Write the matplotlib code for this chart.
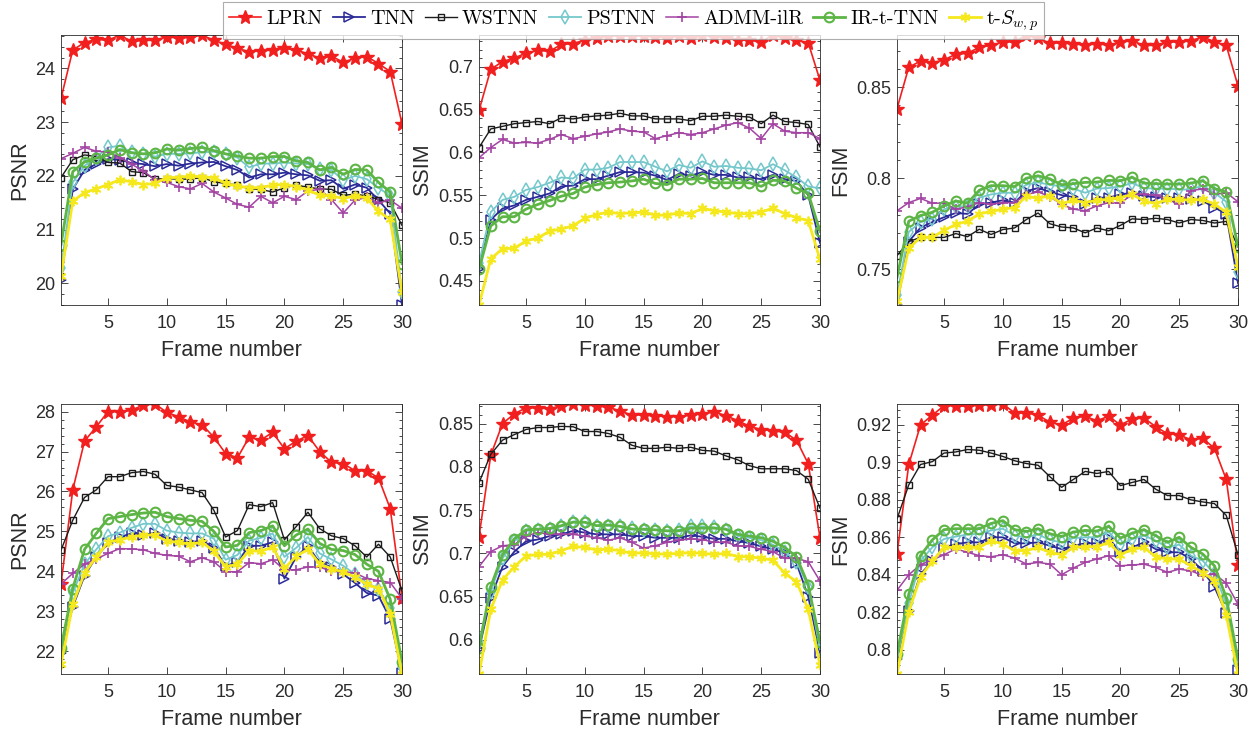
import matplotlib
matplotlib.use("Agg")
import matplotlib.pyplot as plt
from matplotlib.ticker import AutoMinorLocator, FuncFormatter

plt.rcParams["font.family"] = ["Liberation Sans", "DejaVu Sans"]
plt.rcParams["mathtext.fontset"] = "cm"

frames = list(range(1, 31))
methods = ["LPRN", "TNN", "WSTNN", "PSTNN", "ADMM-ilR", "IR-t-TNN", "t-$S_{w,p}$"]

# ---- top row (first video) ----
psnr1_lprn = [23.44, 24.34, 24.48, 24.54, 24.52, 24.62, 24.50, 24.52, 24.52, 24.59, 24.56, 24.58, 24.62, 24.52, 24.45,
              24.37, 24.31, 24.33, 24.34, 24.37, 24.34, 24.27, 24.19, 24.23, 24.11, 24.19, 24.22, 24.09, 23.94, 22.97]
psnr1_tnn = [20.06, 21.75, 22.11, 22.22, 22.31, 22.30, 22.24, 22.22, 22.18, 22.22, 22.19, 22.23, 22.25, 22.26, 22.18,
             22.11, 21.97, 22.03, 22.03, 22.06, 22.03, 22.01, 21.91, 21.92, 21.76, 21.84, 21.78, 21.55, 21.30, 19.60]
psnr1_wstnn = [21.97, 22.30, 22.39, 22.36, 22.25, 22.24, 22.08, 22.06, 21.94, 21.95, 21.94, 21.94, 21.97, 21.89, 21.86,
               21.83, 21.76, 21.75, 21.70, 21.78, 21.83, 21.79, 21.76, 21.75, 21.64, 21.66, 21.63, 21.56, 21.50, 21.08]
psnr1_pstnn = [20.28, 21.88, 22.19, 22.34, 22.53, 22.56, 22.44, 22.41, 22.36, 22.41, 22.41, 22.42, 22.44, 22.45, 22.41,
               22.34, 22.16, 22.23, 22.23, 22.25, 22.23, 22.22, 22.12, 22.11, 21.92, 22.00, 21.94, 21.78, 21.63, 19.84]
psnr1_admm = [22.32, 22.42, 22.53, 22.46, 22.44, 22.34, 22.22, 22.09, 21.93, 21.88, 21.80, 21.76, 21.86, 21.70, 21.59,
              21.47, 21.42, 21.62, 21.50, 21.62, 21.56, 21.72, 21.75, 21.56, 21.31, 21.55, 21.60, 21.50, 21.55, 21.40]
psnr1_irt = [20.72, 22.08, 22.26, 22.33, 22.39, 22.49, 22.43, 22.41, 22.43, 22.50, 22.48, 22.51, 22.53, 22.47, 22.41,
             22.37, 22.33, 22.33, 22.36, 22.36, 22.28, 22.25, 22.11, 22.16, 22.03, 22.12, 22.11, 21.88, 21.70, 20.37]
psnr1_swp = [20.14, 21.53, 21.69, 21.76, 21.84, 21.93, 21.89, 21.84, 21.86, 21.97, 21.97, 22.00, 21.98, 21.97, 21.86,
             21.81, 21.78, 21.78, 21.83, 21.84, 21.80, 21.74, 21.64, 21.63, 21.58, 21.63, 21.59, 21.34, 21.19, 19.84]

ssim1_lprn = [0.649, 0.697, 0.706, 0.710, 0.716, 0.719, 0.718, 0.726, 0.727, 0.731, 0.734, 0.736, 0.736, 0.736, 0.736,
              0.735, 0.734, 0.736, 0.734, 0.737, 0.735, 0.734, 0.731, 0.731, 0.729, 0.737, 0.734, 0.731, 0.728, 0.684]
ssim1_tnn = [0.4635, 0.5214, 0.5346, 0.5382, 0.5446, 0.5482, 0.5521, 0.5604, 0.5613, 0.5688, 0.5688, 0.5729, 0.5771,
             0.5771, 0.5763, 0.5729, 0.5679, 0.5750, 0.5729, 0.5771, 0.5738, 0.5738, 0.5708, 0.5708, 0.5688, 0.5738,
             0.5688, 0.5667, 0.5500, 0.4945]
ssim1_wstnn = [0.6057, 0.6274, 0.6304, 0.6335, 0.6348, 0.6361, 0.6335, 0.6404, 0.6391, 0.6413, 0.6426, 0.6435, 0.6457,
               0.6426, 0.6426, 0.6391, 0.6391, 0.6391, 0.6370, 0.6422, 0.6422, 0.6435, 0.6422, 0.6413, 0.6335, 0.6435,
               0.6361, 0.6348, 0.6326, 0.6065]
ssim1_pstnn = [0.4710, 0.5304, 0.5446, 0.5482, 0.5563, 0.5596, 0.5646, 0.5708, 0.5696, 0.5800, 0.5800, 0.5821, 0.5888,
               0.5888, 0.5888, 0.5833, 0.5779, 0.5854, 0.5821, 0.5896, 0.5833, 0.5842, 0.5821, 0.5813, 0.5792, 0.5863,
               0.5792, 0.5708, 0.5604, 0.5580]
ssim1_admm = [0.5938, 0.6057, 0.6152, 0.6109, 0.6117, 0.6109, 0.6152, 0.6209, 0.6161, 0.6187, 0.6217, 0.6239, 0.6274,
              0.6248, 0.6239, 0.6161, 0.6196, 0.6230, 0.6209, 0.6230, 0.6274, 0.6317, 0.6348, 0.6283, 0.6161, 0.6335,
              0.6248, 0.6230, 0.6230, 0.6161]
ssim1_irt = [0.4635, 0.5143, 0.5250, 0.5250, 0.5339, 0.5393, 0.5439, 0.5489, 0.5521, 0.5596, 0.5625, 0.5646, 0.5654,
             0.5667, 0.5688, 0.5638, 0.5625, 0.5688, 0.5688, 0.5696, 0.5646, 0.5646, 0.5646, 0.5646, 0.5604, 0.5675,
             0.5667, 0.5583, 0.5521, 0.5079]
ssim1_swp = [0.4220, 0.4758, 0.4877, 0.4881, 0.4968, 0.5000, 0.5082, 0.5107, 0.5143, 0.5232, 0.5275, 0.5304, 0.5286,
             0.5296, 0.5304, 0.5268, 0.5268, 0.5296, 0.5286, 0.5346, 0.5321, 0.5304, 0.5286, 0.5286, 0.5304, 0.5350,
             0.5286, 0.5239, 0.5204, 0.4752]

fsim1_lprn = [0.8382, 0.8609, 0.8643, 0.8634, 0.8649, 0.8681, 0.8685, 0.8719, 0.8729, 0.8748, 0.8748, 0.8786, 0.8767,
              0.8742, 0.8742, 0.8739, 0.8729, 0.8739, 0.8729, 0.8748, 0.8754, 0.8729, 0.8729, 0.8748, 0.8748, 0.8754,
              0.8777, 0.8748, 0.8729, 0.8506]
fsim1_tnn = [0.7304, 0.7652, 0.7729, 0.7759, 0.7786, 0.7809, 0.7804, 0.7857, 0.7866, 0.7879, 0.7866, 0.7929, 0.7946,
             0.7925, 0.7907, 0.7896, 0.7861, 0.7893, 0.7893, 0.7911, 0.7920, 0.7902, 0.7896, 0.7893, 0.7893, 0.7884,
             0.7875, 0.7839, 0.7804, 0.7423]
fsim1_wstnn = [0.7575, 0.7652, 0.7675, 0.7675, 0.7675, 0.7696, 0.7679, 0.7720, 0.7691, 0.7718, 0.7727, 0.7773, 0.7809,
               0.7750, 0.7732, 0.7727, 0.7700, 0.7727, 0.7711, 0.7741, 0.7777, 0.7773, 0.7780, 0.7773, 0.7754, 0.7773,
               0.7768, 0.7754, 0.7763, 0.7625]
fsim1_pstnn = [0.7357, 0.7705, 0.7759, 0.7777, 0.7830, 0.7843, 0.7848, 0.7893, 0.7911, 0.7920, 0.7920, 0.7964, 0.7977,
               0.7964, 0.7955, 0.7943, 0.7920, 0.7943, 0.7946, 0.7955, 0.7973, 0.7946, 0.7943, 0.7943, 0.7938, 0.7938,
               0.7959, 0.7920, 0.7871, 0.7486]
fsim1_admm = [0.7821, 0.7866, 0.7889, 0.7863, 0.7863, 0.7830, 0.7843, 0.7866, 0.7857, 0.7866, 0.7866, 0.7911, 0.7925,
              0.7898, 0.7857, 0.7830, 0.7821, 0.7848, 0.7866, 0.7863, 0.7911, 0.7911, 0.7907, 0.7884, 0.7857, 0.7932,
              0.7941, 0.7911, 0.7920, 0.7871]
fsim1_irt = [0.7455, 0.7764, 0.7795, 0.7813, 0.7848, 0.7875, 0.7863, 0.7934, 0.7959, 0.7959, 0.7954, 0.8000, 0.8013,
             0.7996, 0.7964, 0.7970, 0.7977, 0.7979, 0.7988, 0.7986, 0.8005, 0.7973, 0.7970, 0.7968, 0.7968, 0.7973,
             0.7986, 0.7943, 0.7925, 0.7625]
fsim1_swp = [0.7325, 0.7616, 0.7675, 0.7675, 0.7714, 0.7746, 0.7764, 0.7804, 0.7818, 0.7830, 0.7839, 0.7902, 0.7889,
             0.7905, 0.7861, 0.7879, 0.7866, 0.7879, 0.7884, 0.7893, 0.7911, 0.7875, 0.7861, 0.7884, 0.7884, 0.7879,
             0.7884, 0.7857, 0.7813, 0.7514]

# ---- bottom row (second video) ----
psnr2_lprn = [23.68, 26.04, 27.26, 27.62, 28.00, 28.00, 28.03, 28.17, 28.19, 27.98, 27.87, 27.74, 27.67, 27.36, 26.95,
              26.84, 27.36, 27.29, 27.48, 27.07, 27.26, 27.40, 27.00, 26.73, 26.70, 26.52, 26.52, 26.34, 25.57, 23.34]
psnr2_tnn = [21.96, 23.11, 23.89, 24.36, 24.70, 24.86, 24.95, 24.91, 24.97, 24.82, 24.77, 24.73, 24.77, 24.59, 24.14,
             24.23, 24.64, 24.64, 24.73, 23.82, 24.36, 24.64, 24.21, 24.11, 23.93, 23.71, 23.46, 23.39, 22.81, 21.46]
psnr2_wstnn = [24.53, 25.28, 25.85, 26.04, 26.37, 26.37, 26.47, 26.50, 26.43, 26.15, 26.11, 26.04, 25.97, 25.53, 24.86,
               25.02, 25.67, 25.62, 25.72, 24.79, 25.12, 25.48, 25.07, 24.89, 24.82, 24.64, 24.36, 24.68, 24.36, 23.51]
psnr2_pstnn = [22.00, 23.46, 24.18, 24.55, 24.88, 24.97, 25.09, 25.19, 25.19, 25.02, 24.97, 24.95, 24.95, 24.82, 24.29,
               24.41, 24.77, 24.84, 24.95, 24.36, 24.59, 24.86, 24.45, 24.30, 24.14, 23.93, 23.71, 23.57, 23.07, 21.60]
psnr2_admm = [23.68, 23.95, 24.18, 24.31, 24.45, 24.57, 24.56, 24.54, 24.45, 24.40, 24.38, 24.24, 24.34, 24.24, 23.99,
              23.99, 24.22, 24.19, 24.29, 24.04, 24.04, 24.11, 24.11, 24.00, 23.99, 23.96, 23.82, 23.77, 23.72, 23.32]
psnr2_irt = [22.09, 23.57, 24.55, 24.95, 25.32, 25.37, 25.42, 25.46, 25.48, 25.37, 25.32, 25.28, 25.25, 25.00, 24.61,
             24.65, 24.97, 25.02, 25.14, 24.64, 24.91, 25.06, 24.70, 24.55, 24.52, 24.42, 24.18, 24.00, 23.30, 21.74]
psnr2_swp = [21.67, 23.18, 23.96, 24.36, 24.73, 24.79, 24.86, 24.91, 24.91, 24.75, 24.73, 24.68, 24.73, 24.50, 24.11,
             24.18, 24.52, 24.50, 24.61, 24.07, 24.38, 24.55, 24.18, 24.07, 23.98, 23.86, 23.68, 23.57, 22.94, 21.43]

ssim2_lprn = [0.7192, 0.8136, 0.8500, 0.8614, 0.8682, 0.8682, 0.8673, 0.8705, 0.8727, 0.8718, 0.8705, 0.8691, 0.8645,
              0.8600, 0.8600, 0.8591, 0.8582, 0.8582, 0.8600, 0.8614, 0.8636, 0.8591, 0.8536, 0.8468, 0.8432, 0.8418,
              0.8400, 0.8309, 0.8036, 0.7180]
ssim2_tnn = [0.5891, 0.6484, 0.6846, 0.7020, 0.7140, 0.7160, 0.7200, 0.7220, 0.7260, 0.7240, 0.7220, 0.7220, 0.7220,
             0.7200, 0.7200, 0.7180, 0.7180, 0.7180, 0.7208, 0.7192, 0.7168, 0.7168, 0.7140, 0.7120, 0.7080, 0.7048,
             0.7000, 0.6885, 0.6500, 0.5850]
ssim2_wstnn = [0.7817, 0.8145, 0.8309, 0.8373, 0.8432, 0.8455, 0.8455, 0.8468, 0.8464, 0.8409, 0.8409, 0.8386, 0.8341,
               0.8250, 0.8214, 0.8214, 0.8227, 0.8214, 0.8227, 0.8191, 0.8182, 0.8127, 0.8082, 0.8014, 0.7978, 0.7978,
               0.7978, 0.7957, 0.7857, 0.7522]
ssim2_pstnn = [0.5974, 0.6558, 0.6942, 0.7140, 0.7260, 0.7272, 0.7280, 0.7312, 0.7368, 0.7360, 0.7320, 0.7320, 0.7312,
               0.7288, 0.7272, 0.7272, 0.7260, 0.7272, 0.7312, 0.7312, 0.7300, 0.7272, 0.7200, 0.7180, 0.7152, 0.7100,
               0.7020, 0.6904, 0.6615, 0.5891]
ssim2_admm = [0.6846, 0.7020, 0.7088, 0.7100, 0.7200, 0.7240, 0.7220, 0.7220, 0.7220, 0.7200, 0.7180, 0.7152, 0.7180,
              0.7128, 0.7060, 0.7088, 0.7128, 0.7152, 0.7168, 0.7160, 0.7128, 0.7128, 0.7088, 0.7080, 0.7048, 0.7020,
              0.6942, 0.6942, 0.6904, 0.6680]
ssim2_irt = [0.5908, 0.6615, 0.6981, 0.7168, 0.7272, 0.7280, 0.7288, 0.7320, 0.7360, 0.7360, 0.7320, 0.7328, 0.7312,
             0.7280, 0.7280, 0.7272, 0.7260, 0.7260, 0.7292, 0.7292, 0.7292, 0.7280, 0.7220, 0.7200, 0.7180, 0.7140,
             0.7068, 0.6962, 0.6635, 0.5974]
ssim2_swp = [0.5605, 0.6352, 0.6692, 0.6846, 0.6969, 0.6988, 0.6988, 0.7032, 0.7080, 0.7068, 0.7040, 0.7048, 0.7032,
             0.7000, 0.7008, 0.6992, 0.6992, 0.7000, 0.7008, 0.7000, 0.6988, 0.7000, 0.6962, 0.6962, 0.6942, 0.6923,
             0.6769, 0.6673, 0.6352, 0.5710]

fsim2_lprn = [0.8511, 0.8989, 0.9200, 0.9252, 0.9303, 0.9303, 0.9299, 0.9307, 0.9307, 0.9312, 0.9265, 0.9265, 0.9252,
              0.9215, 0.9200, 0.9237, 0.9247, 0.9222, 0.9247, 0.9200, 0.9232, 0.9237, 0.9191, 0.9153, 0.9148, 0.9120,
              0.9129, 0.9075, 0.8909, 0.8452]
fsim2_tnn = [0.7949, 0.8209, 0.8404, 0.8471, 0.8546, 0.8564, 0.8573, 0.8573, 0.8600, 0.8600, 0.8568, 0.8568, 0.8573,
             0.8555, 0.8537, 0.8555, 0.8568, 0.8568, 0.8596, 0.8520, 0.8546, 0.8573, 0.8537, 0.8520, 0.8520, 0.8484,
             0.8421, 0.8334, 0.8195, 0.7893]
fsim2_wstnn = [0.8698, 0.8880, 0.8989, 0.9004, 0.9050, 0.9056, 0.9069, 0.9065, 0.9050, 0.9032, 0.9009, 0.8994, 0.8985,
               0.8924, 0.8867, 0.8909, 0.8952, 0.8941, 0.8952, 0.8876, 0.8893, 0.8909, 0.8857, 0.8823, 0.8823, 0.8800,
               0.8789, 0.8780, 0.8717, 0.8507]
fsim2_pstnn = [0.7949, 0.8247, 0.8475, 0.8546, 0.8591, 0.8604, 0.8615, 0.8619, 0.8637, 0.8646, 0.8609, 0.8600, 0.8615,
               0.8586, 0.8573, 0.8596, 0.8600, 0.8600, 0.8628, 0.8561, 0.8591, 0.8609, 0.8582, 0.8546, 0.8561, 0.8502,
               0.8475, 0.8404, 0.8247, 0.7924]
fsim2_admm = [0.8317, 0.8400, 0.8454, 0.8479, 0.8507, 0.8538, 0.8520, 0.8502, 0.8496, 0.8507, 0.8489, 0.8457, 0.8466,
              0.8457, 0.8400, 0.8436, 0.8466, 0.8484, 0.8502, 0.8448, 0.8452, 0.8457, 0.8439, 0.8413, 0.8430, 0.8421,
              0.8395, 0.8404, 0.8355, 0.8243]
fsim2_irt = [0.7978, 0.8296, 0.8502, 0.8586, 0.8641, 0.8646, 0.8646, 0.8646, 0.8674, 0.8689, 0.8641, 0.8631, 0.8646,
             0.8619, 0.8604, 0.8628, 0.8637, 0.8633, 0.8659, 0.8596, 0.8622, 0.8641, 0.8609, 0.8573, 0.8600, 0.8546,
             0.8511, 0.8448, 0.8278, 0.7949]
fsim2_swp = [0.7870, 0.8203, 0.8390, 0.8471, 0.8546, 0.8546, 0.8546, 0.8546, 0.8582, 0.8564, 0.8529, 0.8529, 0.8546,
             0.8520, 0.8507, 0.8546, 0.8550, 0.8550, 0.8573, 0.8507, 0.8537, 0.8546, 0.8496, 0.8484, 0.8484, 0.8448,
             0.8412, 0.8369, 0.8186, 0.7870]

xticks = [5, 10, 15, 20, 25, 30]
psnr1_ticks = [20, 21, 22, 23, 24]
ssim1_ticks = [0.45, 0.5, 0.55, 0.6, 0.65, 0.7]
fsim1_ticks = [0.75, 0.8, 0.85]
psnr2_ticks = [22, 23, 24, 25, 26, 27, 28]
ssim2_ticks = [0.6, 0.65, 0.7, 0.75, 0.8, 0.85]
fsim2_ticks = [0.8, 0.82, 0.84, 0.86, 0.88, 0.9, 0.92]

# line look for each method (same order as methods)
styles = [
    dict(color="#f21f1f", marker="*", ms=10, mfc="#f21f1f", mec="#f21f1f", lw=1.2),
    dict(color="#2b2b98", marker=">", ms=6.5, mfc="none", lw=1.3, mew=1.1),
    dict(color="#1c1c1c", marker="s", ms=4.8, mfc="none", lw=1.0, mew=1.0),
    dict(color="#74c8cc", marker="d", ms=7, mfc="none", lw=1.3, mew=1.1),
    dict(color="#a344a3", marker="+", ms=7, lw=1.1, mew=1.2),
    dict(color="#5cb544", marker="o", ms=7, mfc="none", lw=2.0, mew=1.5),
    dict(color="#f5e81c", marker=(6, 2, 0), ms=7, lw=2.0, mew=1.3),
]

panels = [
    ("PSNR", [psnr1_lprn, psnr1_tnn, psnr1_wstnn, psnr1_pstnn, psnr1_admm, psnr1_irt, psnr1_swp], psnr1_ticks),
    ("SSIM", [ssim1_lprn, ssim1_tnn, ssim1_wstnn, ssim1_pstnn, ssim1_admm, ssim1_irt, ssim1_swp], ssim1_ticks),
    ("FSIM", [fsim1_lprn, fsim1_tnn, fsim1_wstnn, fsim1_pstnn, fsim1_admm, fsim1_irt, fsim1_swp], fsim1_ticks),
    ("PSNR", [psnr2_lprn, psnr2_tnn, psnr2_wstnn, psnr2_pstnn, psnr2_admm, psnr2_irt, psnr2_swp], psnr2_ticks),
    ("SSIM", [ssim2_lprn, ssim2_tnn, ssim2_wstnn, ssim2_pstnn, ssim2_admm, ssim2_irt, ssim2_swp], ssim2_ticks),
    ("FSIM", [fsim2_lprn, fsim2_tnn, fsim2_wstnn, fsim2_pstnn, fsim2_admm, fsim2_irt, fsim2_swp], fsim2_ticks),
]

W, H = 1250, 730
fig = plt.figure(figsize=(W / 100, H / 100), dpi=100)

lefts = [61, 479, 897]
axw = 341
tops = [35, 404]
axh = 270
txt = "#2b2b2b"

axes = []
for k, (ylab, series, yt) in enumerate(panels):
    row, col = divmod(k, 3)
    ax = fig.add_axes([lefts[col] / W, 1 - (tops[row] + axh) / H, axw / W, axh / H])
    for vals, st in zip(series, styles):
        ax.plot(frames, vals, **st)
    # tight limits, like MATLAB's axis tight
    lo = min(min(v) for v in series)
    hi = max(max(v) for v in series)
    ax.set_xlim(1, 30)
    ax.set_ylim(lo, hi)
    ax.set_xticks(xticks)
    ax.set_yticks(yt)
    ax.yaxis.set_major_formatter(FuncFormatter(lambda v, p: f"{v:g}"))
    ax.yaxis.set_minor_locator(AutoMinorLocator(5))
    ax.tick_params(which="both", direction="in", top=True, right=True, colors=txt,
                   labelsize=13, width=0.6)
    ax.tick_params(which="major", length=5)
    ax.tick_params(which="minor", length=2.5)
    ax.tick_params(axis="x", pad=7)
    ax.tick_params(axis="y", pad=4)
    for s in ax.spines.values():
        s.set_color(txt)
        s.set_linewidth(0.6)
    ax.set_xlabel("Frame number", fontsize=15.5, color=txt, labelpad=6)
    ax.set_ylabel(ylab, fontsize=15.5, color=txt, labelpad=4)
    axes.append(ax)

# shared legend across the top
leg = fig.legend(axes[0].get_lines(), methods, loc="upper center", bbox_to_anchor=(0.507, 1.0),
                 ncol=7, frameon=True, fancybox=False, edgecolor="#999999",
                 prop={"family": "cmr10", "size": 14.5}, handlelength=1.6, handletextpad=0.25,
                 columnspacing=0.5, borderpad=0.3, borderaxespad=0.1)
leg.get_frame().set_linewidth(0.8)

fig.savefig("out.png", dpi=100)
